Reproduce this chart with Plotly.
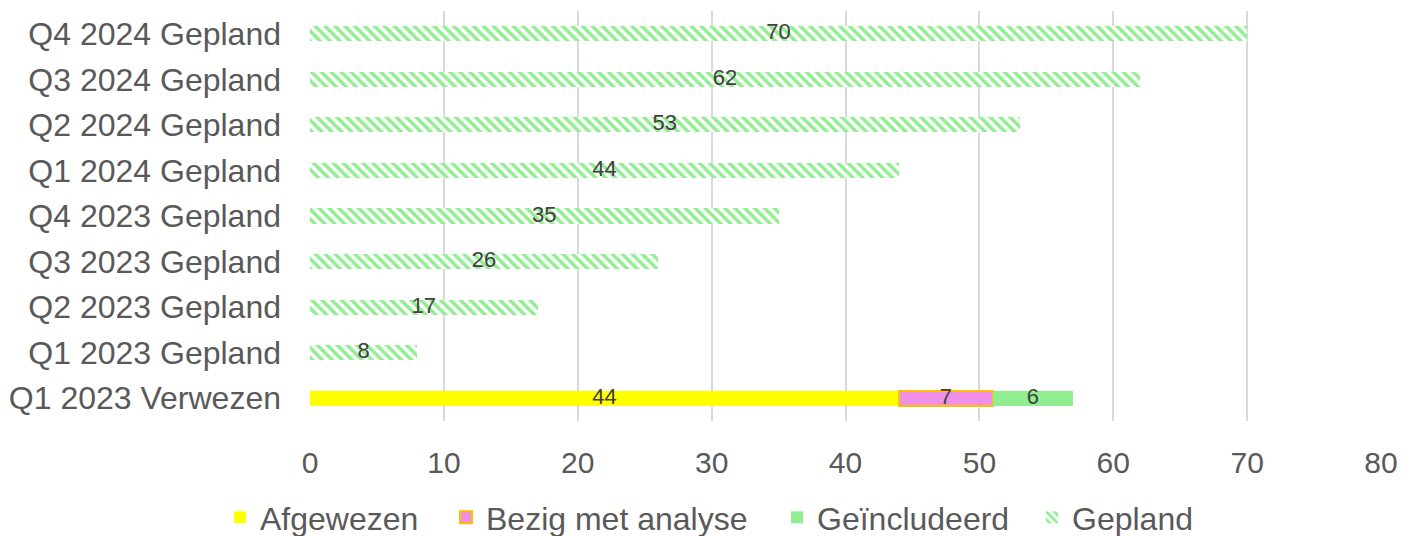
import plotly.graph_objects as go

categories = ["Q1 2023 Verwezen", "Q1 2023 Gepland", "Q2 2023 Gepland", "Q3 2023 Gepland",
              "Q4 2023 Gepland", "Q1 2024 Gepland", "Q2 2024 Gepland", "Q3 2024 Gepland",
              "Q4 2024 Gepland"]
afgewezen = [44, None, None, None, None, None, None, None, None]
bezig = [7, None, None, None, None, None, None, None, None]
geincludeerd = [6, None, None, None, None, None, None, None, None]
gepland = [None, 8, 17, 26, 35, 44, 53, 62, 70]
x_ticks = [0, 10, 20, 30, 40, 50, 60, 70, 80]

FONT = "Liberation Sans, Arial, sans-serif"
GRAY = "#595959"
BW = 0.33
FIG_W, FIG_H = 1404, 528

fig = go.Figure()
fig.add_trace(go.Bar(y=categories, x=afgewezen, orientation="h", name="Afgewezen",
                     marker=dict(color="#FFFF00", line=dict(width=0)), width=BW,
                     legend="legend"))
fig.add_trace(go.Bar(y=categories, x=bezig, orientation="h", name="Bezig met analyse",
                     marker=dict(color="#F08FE8", line=dict(color="#FFC000", width=2)), width=BW,
                     legend="legend2"))
fig.add_trace(go.Bar(y=categories, x=geincludeerd, orientation="h", name="Geïncludeerd",
                     marker=dict(color="#90EE90", line=dict(width=0)), width=BW,
                     legend="legend3"))
fig.add_trace(go.Bar(y=categories, x=gepland, orientation="h", name="Gepland",
                     marker=dict(color="white", line=dict(width=0),
                                 pattern=dict(shape="\\", fgcolor="#90EE90", bgcolor="white",
                                              size=7, solidity=0.5, fillmode="replace")),
                     width=BW, legend="legend4"))

# data labels centered in each segment
lab_x, lab_y, lab_t = [], [], []
for i, c in enumerate(categories):
    base = 0
    for series in (afgewezen, bezig, geincludeerd, gepland):
        v = series[i]
        if v:
            lab_x.append(base + v / 2)
            lab_y.append(c)
            lab_t.append(str(v))
            base += v
fig.add_trace(go.Scatter(x=lab_x, y=lab_y, text=lab_t, mode="text", showlegend=False,
                         textfont=dict(family=FONT, size=22, color="#404040"),
                         hoverinfo="skip"))


def leg(px_left):
    return dict(orientation="h", xref="container", x=px_left / FIG_W, xanchor="left",
                yref="container", y=0.035, yanchor="middle",
                font=dict(family=FONT, size=32, color=GRAY), itemwidth=30,
                bgcolor="rgba(0,0,0,0)")


fig.update_layout(
    barmode="stack",
    width=FIG_W, height=FIG_H,
    margin=dict(l=302, r=31, t=3, b=115, autoexpand=False),
    paper_bgcolor="white", plot_bgcolor="white",
    font=dict(family=FONT, color=GRAY),
    showlegend=True,
    legend=leg(212),
    legend2=leg(438),
    legend3=leg(769),
    legend4=leg(1024),
    xaxis=dict(range=[0, 80], tickvals=x_ticks, showgrid=True, gridcolor="#D9D9D9",
               gridwidth=2, zeroline=False, showline=False, automargin=False,
               tickfont=dict(family=FONT, size=30, color=GRAY), ticks="",
               ticklabelstandoff=21),
    yaxis=dict(type="category", categoryorder="array", categoryarray=categories,
               range=[-0.5, 8.5], showgrid=False, zeroline=False, showline=False,
               automargin=False,
               tickfont=dict(family=FONT, size=32, color=GRAY), ticks="", ticklen=0,
               ticklabelstandoff=28),
)

fig.write_html("out.html")
